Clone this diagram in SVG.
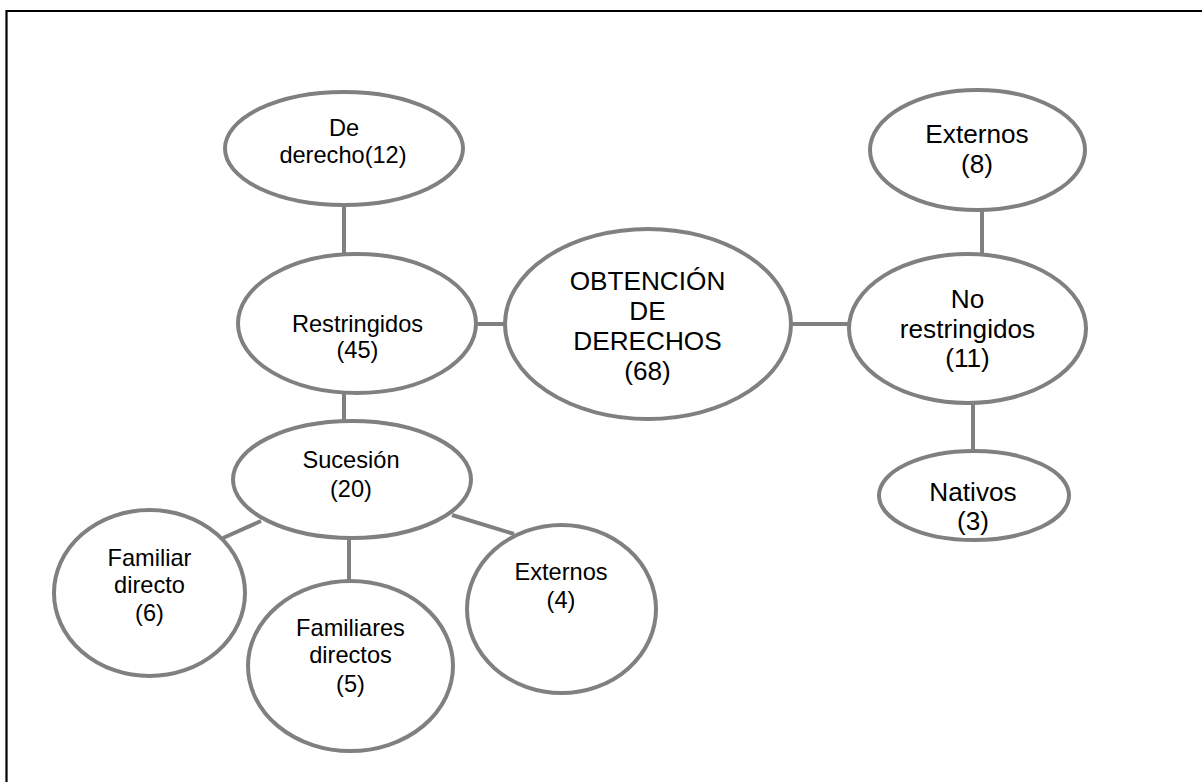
<svg xmlns="http://www.w3.org/2000/svg" width="1202" height="782" viewBox="0 0 1202 782">
<style>
.n{fill:#fff;stroke:#808080;stroke-width:4}
.c line{stroke:#808080;stroke-width:4}
.t{font-family:"Liberation Sans",Arial,sans-serif;fill:#000;text-anchor:middle}
.s{font-size:23.6px}
.b{font-size:26.2px}
</style>
<rect x="0" y="0" width="1202" height="782" fill="#fff"/>
<path d="M6.5 782 V11 H1202" fill="none" stroke="#000" stroke-width="2.2"/>
<g id="connectors" class="c">
<line x1="344" y1="205" x2="344" y2="254"/>
<line x1="476" y1="324" x2="506" y2="324"/>
<line x1="791" y1="324" x2="849" y2="324"/>
<line x1="982" y1="210" x2="982" y2="254"/>
<line x1="973" y1="403" x2="973" y2="451"/>
<line x1="344" y1="393" x2="344" y2="421"/>
<line x1="261" y1="521" x2="223" y2="538"/>
<line x1="349" y1="538" x2="349" y2="581"/>
<line x1="452" y1="515" x2="514" y2="534"/>
</g>
<g id="de-derecho">
<ellipse class="n" cx="344" cy="148.5" rx="119" ry="56.5"/>
<text class="t s"><tspan x="344" y="136">De</tspan><tspan x="343" y="163">derecho(12)</tspan></text>
</g>
<g id="restringidos">
<ellipse class="n" cx="357" cy="323.5" rx="119" ry="69.5"/>
<text class="t s"><tspan x="357.5" y="332">Restringidos</tspan><tspan x="357.5" y="358">(45)</tspan></text>
</g>
<g id="obtencion">
<ellipse class="n" cx="648" cy="324" rx="143" ry="95"/>
<text class="t b"><tspan x="647.5" y="290">OBTENCIÓN</tspan><tspan x="647.5" y="320">DE</tspan><tspan x="647.5" y="350">DERECHOS</tspan><tspan x="647.5" y="380">(68)</tspan></text>
</g>
<g id="no-restringidos">
<ellipse class="n" cx="967.5" cy="328.5" rx="118.5" ry="74.5"/>
<text class="t b"><tspan x="967.5" y="308">No</tspan><tspan x="967.5" y="338">restringidos</tspan><tspan x="967.5" y="367">(11)</tspan></text>
</g>
<g id="externos-8">
<ellipse class="n" cx="977.5" cy="150" rx="107.5" ry="60"/>
<text class="t b"><tspan x="977" y="143">Externos</tspan><tspan x="977" y="173">(8)</tspan></text>
</g>
<g id="nativos">
<ellipse class="n" cx="974" cy="495.5" rx="95" ry="44.5"/>
<text class="t b"><tspan x="973" y="501">Nativos</tspan><tspan x="973" y="530">(3)</tspan></text>
</g>
<g id="sucesion">
<ellipse class="n" cx="352" cy="479.5" rx="119" ry="58.5"/>
<text class="t s"><tspan x="351" y="468">Sucesión</tspan><tspan x="351" y="497">(20)</tspan></text>
</g>
<g id="familiar-directo">
<ellipse class="n" cx="149.5" cy="593" rx="95.5" ry="83"/>
<text class="t s"><tspan x="149.5" y="566">Familiar</tspan><tspan x="149.5" y="593">directo</tspan><tspan x="149.5" y="621">(6)</tspan></text>
</g>
<g id="familiares-directos">
<ellipse class="n" cx="350.5" cy="666" rx="102.5" ry="85"/>
<text class="t s"><tspan x="350.5" y="636">Familiares</tspan><tspan x="350.5" y="663">directos</tspan><tspan x="350.5" y="692">(5)</tspan></text>
</g>
<g id="externos-4">
<ellipse class="n" cx="561.5" cy="609" rx="94.5" ry="84"/>
<text class="t s"><tspan x="561" y="580">Externos</tspan><tspan x="561" y="608">(4)</tspan></text>
</g>
</svg>
